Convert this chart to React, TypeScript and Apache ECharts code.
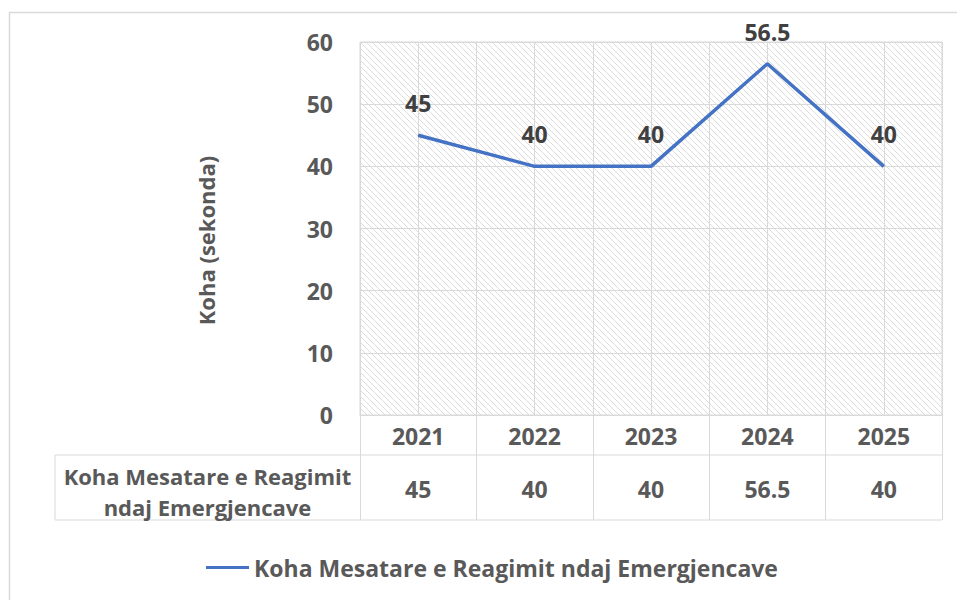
import React, { useEffect, useRef } from "react";
import * as echarts from "echarts";

const years = ["2021", "2022", "2023", "2024", "2025"];
const values = [45, 40, 40, 56.5, 40];
const seriesName = "Koha Mesatare e Reagimit ndaj Emergjencave";
const tableHeader = ["Koha Mesatare e Reagimit", "ndaj Emergjencave"];
const yTitle = "Koha (sekonda)";
const yMin = 0;
const yMax = 60;
const yStep = 10;

const FONT = "'Open Sans', 'Noto Sans', sans-serif";
const TXT = "#595959";
const GRID = "#d9d9d9";

const G_LEFT = 360;
const G_RIGHT_EDGE = 942;
const G_TOP = 42;
const G_BOTTOM_EDGE = 415;
const ROW1 = 40;
const ROW2 = 65;
const HEAD_LEFT = 55;
const TILE = 6;

function makeHatch(): HTMLCanvasElement {
  const s = TILE;
  const c = document.createElement("canvas");
  c.width = s;
  c.height = s;
  const ctx = c.getContext("2d")!;
  ctx.fillStyle = "#ffffff";
  ctx.fillRect(0, 0, s, s);
  ctx.strokeStyle = "#dcdcdc";
  ctx.lineWidth = 1;
  for (const k of [-1, 0, 1]) {
    ctx.beginPath();
    ctx.moveTo(k * s, 0);
    ctx.lineTo(k * s + s, s);
    ctx.stroke();
  }
  return c;
}

export default function App() {
  const ref = useRef<HTMLDivElement>(null);
  useEffect(() => {
    if (!ref.current) return;
    const chart = echarts.init(ref.current, undefined, { renderer: "svg" });
    const hatch = makeHatch();
    const tableBottom = G_BOTTOM_EDGE + ROW1 + ROW2;
    const headCenter = (HEAD_LEFT + G_LEFT) / 2;
    chart.setOption({
      animation: false,
      backgroundColor: "#ffffff",
      textStyle: { fontFamily: FONT },
      grid: {
        left: G_LEFT,
        right: 957 - G_RIGHT_EDGE,
        top: G_TOP,
        bottom: 600 - G_BOTTOM_EDGE,
        show: true,
        backgroundColor: { image: hatch, repeat: "repeat", imageWidth: TILE, imageHeight: TILE } as any,
        borderColor: GRID,
        borderWidth: 1,
      },
      xAxis: [
        {
          type: "category",
          data: years,
          boundaryGap: true,
          axisLine: { show: true, lineStyle: { color: GRID, width: 1 } },
          axisTick: { show: true, length: ROW1 + ROW2, lineStyle: { color: GRID, width: 1 } },
          splitLine: { show: true, lineStyle: { color: GRID, width: 1 } },
          axisLabel: { color: TXT, fontSize: 23, fontWeight: "bold", fontFamily: FONT, margin: 9 },
        },
        {
          type: "value",
          min: 0,
          max: years.length,
          interval: 0.5,
          show: true,
          axisLine: { show: false },
          axisTick: { show: false },
          axisLabel: { show: false },
          splitLine: { show: true, lineStyle: { color: GRID, width: 1 } },
        },
        {
          type: "category",
          data: values.map((v) => String(v)),
          position: "bottom",
          offset: ROW1,
          boundaryGap: true,
          axisLine: { show: false },
          axisTick: { show: false },
          splitLine: { show: false },
          axisLabel: { color: TXT, fontSize: 23, fontWeight: "bold", fontFamily: FONT, margin: 22 },
        },
      ],
      yAxis: {
        type: "value",
        min: yMin,
        max: yMax,
        interval: yStep,
        axisLine: { show: false },
        axisTick: { show: false },
        splitLine: { show: true, lineStyle: { color: GRID, width: 1 } },
        axisLabel: { color: TXT, fontSize: 23, fontWeight: "bold", fontFamily: FONT, margin: 27 },
        name: yTitle,
        nameLocation: "middle",
        nameRotate: 90,
        nameGap: 143,
        nameTextStyle: {
          color: TXT,
          fontSize: 22,
          fontWeight: "bold",
          fontFamily: FONT,
          padding: [0, 24, 0, 0],
        },
      },
      legend: {
        show: true,
        bottom: 16,
        left: 201,
        itemWidth: 43,
        itemHeight: 14,
        textStyle: { color: TXT, fontSize: 23, fontWeight: "bold", fontFamily: FONT },
        data: [{ name: seriesName, icon: "path://M0,6 L43,6 L43,9 L0,9 Z" }],
      },
      series: [
        {
          name: seriesName,
          type: "line",
          data: values,
          xAxisIndex: 0,
          symbol: "circle",
          symbolSize: 1,
          showSymbol: true,
          lineStyle: { color: "#4472C4", width: 3.5 },
          itemStyle: { color: "#4472C4" },
          label: {
            show: true,
            position: "top",
            distance: 20,
            color: "#404040",
            fontSize: 23,
            fontWeight: "bold",
            fontFamily: FONT,
          },
        },
      ],
      graphic: [
        {
          type: "rect",
          shape: { x: 9.5, y: 12.5, width: 1200, height: 1200 },
          style: { fill: "none", stroke: GRID, lineWidth: 1.5 },
          silent: true,
          z: -10,
        },
        {
          type: "line",
          shape: { x1: HEAD_LEFT, y1: G_BOTTOM_EDGE + ROW1, x2: G_RIGHT_EDGE, y2: G_BOTTOM_EDGE + ROW1 },
          style: { stroke: GRID, lineWidth: 1 },
          silent: true,
        },
        {
          type: "line",
          shape: { x1: HEAD_LEFT, y1: tableBottom, x2: G_RIGHT_EDGE, y2: tableBottom },
          style: { stroke: GRID, lineWidth: 1 },
          silent: true,
        },
        {
          type: "line",
          shape: { x1: HEAD_LEFT, y1: G_BOTTOM_EDGE + ROW1, x2: HEAD_LEFT, y2: tableBottom },
          style: { stroke: GRID, lineWidth: 1 },
          silent: true,
        },
        {
          type: "text",
          x: headCenter,
          y: G_BOTTOM_EDGE + ROW1 + 21,
          style: {
            text: tableHeader[0],
            fill: TXT,
            font: `bold 22px ${FONT}`,
            textAlign: "center",
            textVerticalAlign: "middle",
          },
        },
        {
          type: "text",
          x: headCenter,
          y: G_BOTTOM_EDGE + ROW1 + 52,
          style: {
            text: tableHeader[1],
            fill: TXT,
            font: `bold 22px ${FONT}`,
            textAlign: "center",
            textVerticalAlign: "middle",
          },
        },
      ],
    });
    return () => chart.dispose();
  }, []);
  return <div ref={ref} style={{ width: 957, height: 600, position: "absolute", left: 0, top: 0 }} />;
}
